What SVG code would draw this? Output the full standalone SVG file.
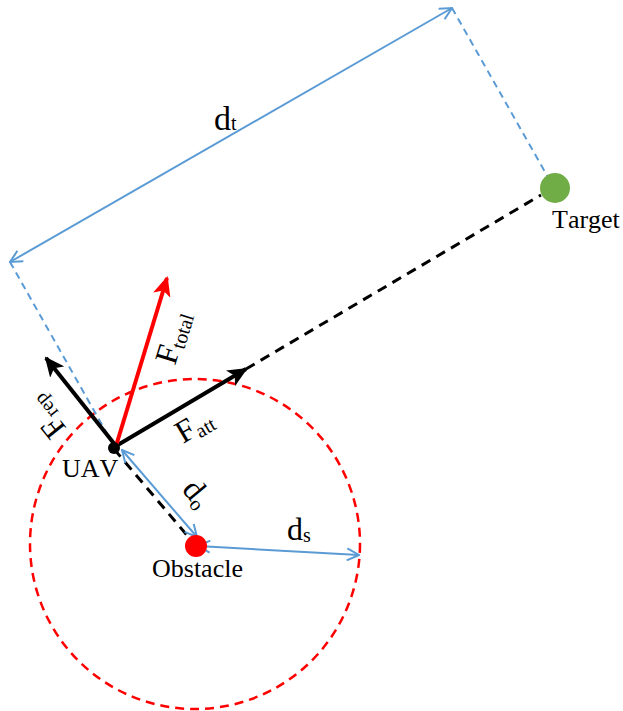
<svg xmlns="http://www.w3.org/2000/svg" width="623" height="711" viewBox="0 0 623 711">
<style>
.lbl{font-family:"Liberation Serif","Times New Roman",serif;fill:#000;font-kerning:none}
.blue{stroke:#5B9BD5;stroke-width:2;fill:none}
.bdash{stroke:#5B9BD5;stroke-width:2;fill:none;stroke-dasharray:7 5}
.kdash{stroke:#000;stroke-width:3;fill:none;stroke-dasharray:10 7}
</style>
<defs>
<marker id="chev" viewBox="0 0 14 14" refX="13" refY="7" markerWidth="14" markerHeight="14" markerUnits="userSpaceOnUse" orient="auto-start-reverse"><path d="M1,1 L13,7 L1,13" fill="none" stroke="#5B9BD5" stroke-width="2"/></marker>
<marker id="headK" viewBox="0 0 20 18" refX="18" refY="9" markerWidth="20" markerHeight="18" markerUnits="userSpaceOnUse" orient="auto"><path d="M0,0 L20,9 L0,18 L5,9 Z" fill="#000"/></marker>
<marker id="headR" viewBox="0 0 20 18" refX="18" refY="9" markerWidth="20" markerHeight="18" markerUnits="userSpaceOnUse" orient="auto"><path d="M0,0 L20,9 L0,18 L5,9 Z" fill="#FF0000"/></marker>
</defs>
<rect width="623" height="711" fill="#fff"/>
<g id="safety-circle"><circle cx="195" cy="544" r="165" fill="none" stroke="#FF0000" stroke-width="2.5" stroke-dasharray="9 6"/></g>
<g id="connectors">
<line class="bdash" x1="452" y1="8" x2="553" y2="186"/>
<line class="bdash" x1="10" y1="262" x2="114" y2="446"/>
<line class="blue" x1="10" y1="262" x2="452" y2="8" marker-start="url(#chev)" marker-end="url(#chev)"/>
<line class="kdash" x1="246" y1="369" x2="541" y2="195"/>
<line class="kdash" x1="114" y1="449" x2="191" y2="540"/>
<line class="blue" x1="122" y1="450" x2="197" y2="537" marker-start="url(#chev)" marker-end="url(#chev)"/>
<line class="blue" x1="198" y1="546" x2="359" y2="555" marker-start="url(#chev)" marker-end="url(#chev)"/>
<line x1="116" y1="446" x2="46" y2="358" stroke="#000" stroke-width="4" marker-end="url(#headK)"/>
<line x1="116" y1="446" x2="246" y2="369" stroke="#000" stroke-width="4" marker-end="url(#headK)"/>
<line x1="116" y1="446" x2="167" y2="278" stroke="#FF0000" stroke-width="4" marker-end="url(#headR)"/>
</g>
<g id="target"><circle cx="555" cy="188" r="15" fill="#70AD47"/><text class="lbl" x="552" y="228" font-size="26">Target</text></g>
<g id="obstacle"><circle cx="196" cy="546" r="11" fill="#FF0000"/><text class="lbl" x="152" y="577" font-size="26">Obstacle</text></g>
<g id="uav"><circle cx="114" cy="448" r="6" fill="#000"/><text class="lbl" x="62" y="477" font-size="26">UAV</text></g>
<g id="labels">
<text class="lbl" x="214" y="130" font-size="34">d<tspan font-size="20" dy="0">t</tspan></text>
<text class="lbl" font-size="32" transform="translate(175,366) rotate(-73)">F<tspan font-size="20" dy="4">total</tspan></text>
<text class="lbl" font-size="32" transform="translate(67,428) rotate(231)">F<tspan font-size="20" dy="4">rep</tspan></text>
<text class="lbl" font-size="32" transform="translate(183,444) rotate(-30.6)">F<tspan font-size="20" dy="4">att</tspan></text>
<text class="lbl" font-size="32" transform="translate(181,490) rotate(50)">d<tspan font-size="20" dy="4">o</tspan></text>
<text class="lbl" font-size="32" x="287" y="540">d<tspan font-size="20" dy="2">s</tspan></text>
</g>
</svg>
